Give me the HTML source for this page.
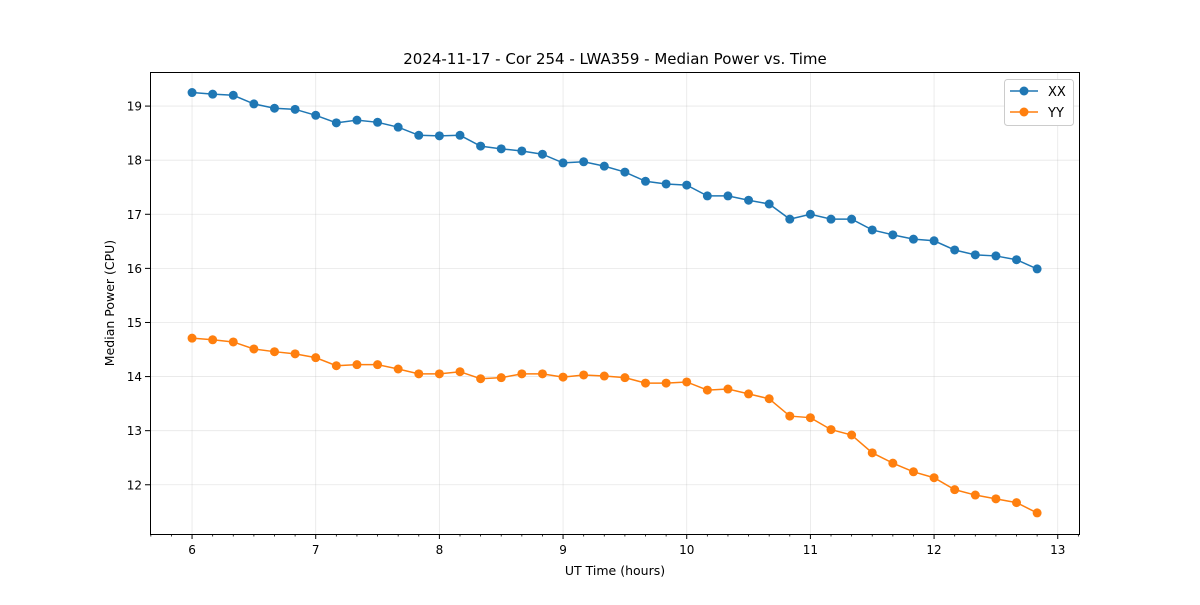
<!DOCTYPE html>
<html><head><meta charset="utf-8"><style>
body{margin:0;background:#fff;font-family:"Liberation Sans","DejaVu Sans",sans-serif}
</style></head><body>
<svg id="chart" width="1200" height="600" xmlns="http://www.w3.org/2000/svg" font-family="DejaVu Sans, Liberation Sans, sans-serif">
<rect width="1200" height="600" fill="#fff"/>
<text x="615" y="64" text-anchor="middle" font-size="15">2024-11-17 - Cor 254 - LWA359 - Median Power vs. Time</text>
<text x="615" y="575" text-anchor="middle" font-size="12.5">UT Time (hours)</text>
<text x="114" y="303" text-anchor="middle" font-size="12.5" transform="rotate(-90 114 303)">Median Power (CPU)</text>
<g id="grid"></g><g id="axes"></g><g id="series"></g>
<rect x="150.5" y="72.5" width="929" height="462" fill="none" stroke="#000" stroke-width="1"/>
<g>
<rect x="1004.5" y="79.5" width="69" height="46" rx="3" fill="#fff" stroke="#ccc"/>
<line x1="1010" y1="91" x2="1038" y2="91" stroke="#1f77b4" stroke-width="1.5"/><circle cx="1024" cy="91" r="4.5" fill="#1f77b4"/>
<text x="1048" y="96" font-size="13">XX</text>
<line x1="1010" y1="112" x2="1038" y2="112" stroke="#ff7f0e" stroke-width="1.5"/><circle cx="1024" cy="112" r="4.5" fill="#ff7f0e"/>
<text x="1048" y="117" font-size="13">YY</text>
</g>
</svg>
<script>
const xx=[19.25,19.22,19.20,19.04,18.96,18.94,18.83,18.69,18.74,18.70,18.61,18.46,18.45,18.46,18.26,18.21,18.17,18.11,17.95,17.97,17.89,17.78,17.61,17.56,17.54,17.34,17.34,17.26,17.19,16.91,17.00,16.91,16.91,16.71,16.62,16.54,16.51,16.34,16.25,16.23,16.16,15.99];
const yy=[14.71,14.68,14.64,14.51,14.46,14.42,14.35,14.20,14.22,14.22,14.14,14.05,14.05,14.09,13.96,13.98,14.05,14.05,13.99,14.03,14.01,13.98,13.88,13.88,13.90,13.75,13.77,13.68,13.59,13.27,13.24,13.02,12.92,12.59,12.40,12.24,12.13,11.91,11.81,11.74,11.67,11.48];
const times=xx.map((_,k)=>6+k/6);
const xTicks=[6,7,8,9,10,11,12,13];
const yTicks=[12,13,14,15,16,17,18,19];
const X0=150,X1=1080,Y0=534,Y1=72,xmin=5.66,xmax=13.18,ymin=11.09,ymax=19.63;
const sx=v=>X0+(v-xmin)/(xmax-xmin)*(X1-X0);
const sy=v=>Y0-(v-ymin)/(ymax-ymin)*(Y0-Y1);
const NS="http://www.w3.org/2000/svg";
function mk(t,a,p){const e=document.createElementNS(NS,t);for(const k in a)e.setAttribute(k,a[k]);p.appendChild(e);return e;}
const grid=document.getElementById('grid'),axes=document.getElementById('axes'),ser=document.getElementById('series');
xTicks.forEach(t=>{const x=sx(t);
const g=mk('line',{x1:x,x2:x,y1:Y1,y2:Y0,stroke:'#b0b0b0','stroke-opacity':0.3,'stroke-width':0.8},grid);

mk('line',{x1:x,x2:x,y1:Y0,y2:Y0+5,stroke:'#000'},axes);
const l=mk('text',{x:x,y:Y0+20,'text-anchor':'middle','font-size':12},axes);l.textContent=t;
});
for(let k=-2;k<=43;k++){const m=6+k/6;if(m<xmin||m>xmax||k%6===0)continue;const x=sx(m);mk('line',{x1:x,x2:x,y1:Y0,y2:Y0+2.5,stroke:'#000','stroke-width':0.8},axes);}
yTicks.forEach(t=>{const y=sy(t);
const g=mk('line',{x1:X0,x2:X1,y1:y,y2:y,stroke:'#b0b0b0','stroke-opacity':0.3,'stroke-width':0.8},grid);

mk('line',{x1:X0-5,x2:X0,y1:y,y2:y,stroke:'#000'},axes);
const l=mk('text',{x:X0-8,y:y+4.5,'text-anchor':'end','font-size':12},axes);l.textContent=t;
});
function draw(vals,color,name){
const pts=vals.map((v,i)=>sx(times[i])+','+sy(v)).join(' ');
const pl=mk('polyline',{points:pts,fill:'none',stroke:color,'stroke-width':1.5},ser);

vals.forEach((v,i)=>{const c=mk('circle',{cx:sx(times[i]),cy:sy(v),r:4.5,fill:color},ser);
});}
draw(xx,'#1f77b4','xx');draw(yy,'#ff7f0e','yy');
</script>
</body></html>
